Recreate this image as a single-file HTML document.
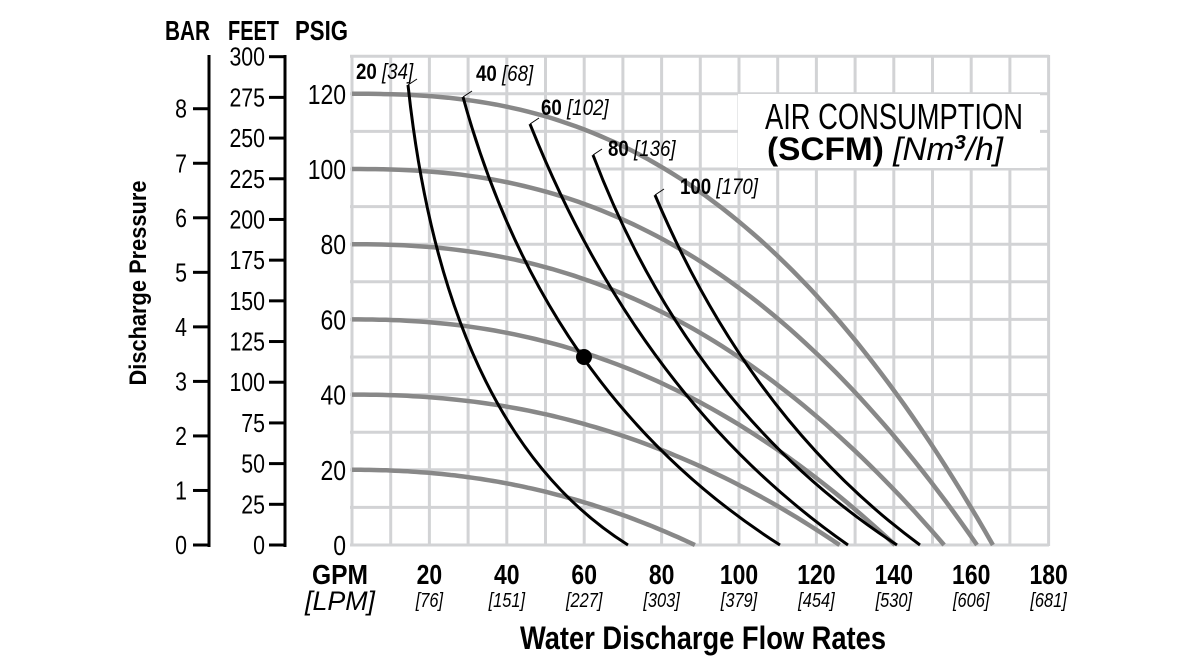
<!DOCTYPE html>
<html><head><meta charset="utf-8"><style>
html,body{margin:0;padding:0;background:#fff;}
svg{display:block;font-family:"Liberation Sans Narrow","Liberation Sans",sans-serif;}
</style></head><body>
<svg id="s" width="1200" height="660" viewBox="0 0 1200 660" xmlns="http://www.w3.org/2000/svg">
<g id="grid" stroke="#d2d3d5" stroke-width="3"></g>
<rect x="738" y="94" width="302" height="74" fill="#fff"/>
<g id="gray" fill="none" stroke="#888" stroke-width="4.5"></g>
<g id="black" fill="none" stroke="#000" stroke-width="3"></g>
<circle cx="584" cy="357" r="8" fill="#000"/>
<g id="ax" stroke="#000" stroke-width="3" fill="none">
<line x1="209" y1="55" x2="209" y2="547"/>
<line x1="285" y1="55" x2="285" y2="547"/>
</g>
<g id="txt" fill="#000"></g>
<g font-weight="bold" font-size="28">
<text x="165" y="40" textLength="45" lengthAdjust="spacingAndGlyphs">BAR</text>
<text x="228" y="40" textLength="51" lengthAdjust="spacingAndGlyphs">FEET</text>
<text x="295" y="40" textLength="53" lengthAdjust="spacingAndGlyphs">PSIG</text>
</g>
<text transform="translate(146,283) rotate(-90)" text-anchor="middle" font-weight="bold" font-size="24" textLength="205" lengthAdjust="spacingAndGlyphs">Discharge Pressure</text>
<text x="520" y="649" font-weight="bold" font-size="32" textLength="366" lengthAdjust="spacingAndGlyphs">Water Discharge Flow Rates</text>
<text x="340" y="584" text-anchor="middle" font-weight="bold" font-size="28" textLength="56" lengthAdjust="spacingAndGlyphs">GPM</text>
<text x="340" y="610" text-anchor="middle" font-style="italic" font-size="27" textLength="70" lengthAdjust="spacingAndGlyphs">[LPM]</text>
<text x="765" y="129" font-size="36" textLength="258" lengthAdjust="spacingAndGlyphs">AIR CONSUMPTION</text>
<text x="767" y="160" font-size="32" textLength="236" lengthAdjust="spacingAndGlyphs"><tspan font-weight="bold">(SCFM)</tspan> <tspan font-style="italic">[Nm<tspan font-size="20" dy="-11" font-weight="bold">3</tspan><tspan dy="11">/h]</tspan></tspan></text>
</svg>
<script>
var NS="http://www.w3.org/2000/svg";
function el(p,t,a,txt){var e=document.createElementNS(NS,t);for(var k in a)e.setAttribute(k,a[k]);if(txt!=null)e.textContent=txt;document.getElementById(p).appendChild(e);return e;}
function tx(x,y,anchor,size,txt,extra,sx){var a={transform:"translate("+x+","+y+") scale("+(sx||0.82)+",1)","text-anchor":anchor,"font-size":size};for(var k in (extra||{}))a[k]=extra[k];return el("txt","text",a,txt);}
var X0=352,DX=3.87,Y0=545,DY=3.76;
function X(q){return X0+q*DX;} function Y(p){return Y0-p*DY;}
for(var i=0;i<=18;i++){var x=X0+i*38.7;el("grid","line",{x1:x,y1:55,x2:x,y2:546});}
for(var j=0;j<=13;j++){var y=Y0-j*37.6;el("grid","line",{x1:350,y1:y,x2:1049,y2:y});}
var G=[[120,165.6,2.5],[100,161.5,2.4],[80,153,2.3],[60,140.3,2.25],[40,126,2.2],[20,88.6,2.15]];
G.forEach(function(g){var d="";for(var k=0;k<=80;k++){var q=g[1]*k/80;var p=g[0]*(1-Math.pow(q/g[1],g[2]));d+=(k?"L":"M")+X(q).toFixed(1)+","+Y(p).toFixed(1);}el("gray","path",{d:d});});
var B=[[[408,85],[445,430],[628,545]],[[463,97],[545,395],[780,545]],[[530,124],[640,400],[848,545]],[[593,155],[690,410],[897,545]],[[655,195],[750,420],[920,545]]];
B.forEach(function(b){el("black","path",{d:"M"+b[0]+"Q"+b[1]+" "+b[2]});});
var L=[["20","[34]",356,79,408,85],["40","[68]",476,81,463,97],["60","[102]",541,115,530,124],["80","[136]",608,156,593,155],["100","[170]",680,194,655,195]];
L.forEach(function(l){var t=tx(l[2],l[3],"start","22",null,{},0.85);
var a=document.createElementNS(NS,"tspan");a.setAttribute("font-weight","bold");a.textContent=l[0]+" ";t.appendChild(a);
var b=document.createElementNS(NS,"tspan");b.setAttribute("font-style","italic");b.textContent=l[1];t.appendChild(b);
el("ax","line",{x1:l[4],y1:l[5],x2:l[4]+9,y2:l[5]-6,"stroke-width":"1"});});
for(var p=0;p<=120;p+=20)tx(346,Y(p)+10,"end","28",p);
for(var f=0;f<=300;f+=25){var y=Y(f/2.31);el("ax","line",{x1:269,y1:y,x2:285,y2:y});tx(265,y+9,"end","26",f);}
for(var b=0;b<=8;b++){var y=Y(b*14.5038);el("ax","line",{x1:193,y1:y,x2:209,y2:y});tx(187,y+9,"end","26",b);}
var lpm=[76,151,227,303,379,454,530,606,681];
for(var i=1;i<=9;i++){var x=X(i*20);tx(x,584,"middle","28",i*20,{"font-weight":"bold"});
tx(x,607,"middle","20","["+lpm[i-1]+"]",{"font-style":"italic"});}
</script>
</body></html>
